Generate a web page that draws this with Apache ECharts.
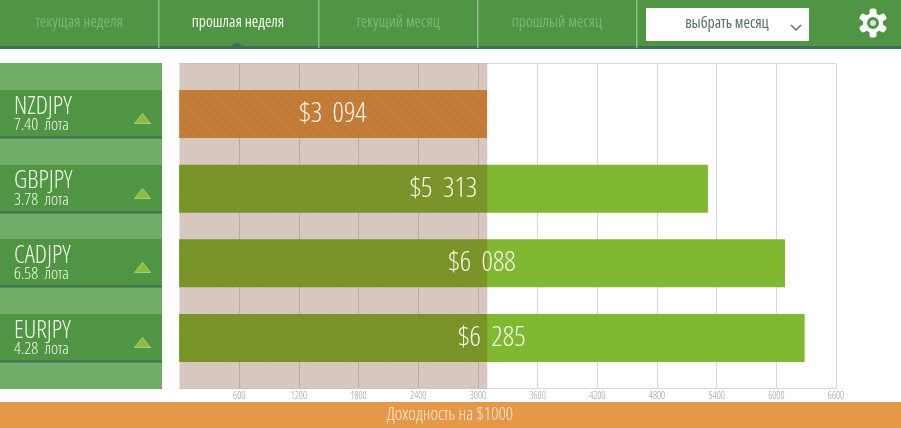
<!DOCTYPE html>
<html><head><meta charset="utf-8">
<style>html,body{margin:0;padding:0;background:#fff}#c{width:901px;height:428px}</style>
<script src="https://cdn.jsdelivr.net/npm/echarts@6/dist/echarts.min.js"></script>
</head><body><div id="c"></div>
<script>
const pairs = ['NZDJPY','GBPJPY','CADJPY','EURJPY'];
const lots = ['7.40','3.78','6.58','4.28'];
const profits = [3094,5313,6088,6285];
const barColors = ['#E59848','#80B832','#80B832','#80B832'];
const bandValue = [3094];
const tabs = ['текущая неделя','прошлая неделя','текущий месяц','прошлый месяц'];
const FONT = '"Open Sans","DejaVu Sans",sans-serif';
const NARROW = '300 condensed';

function hatch(){
  const s=10,c=document.createElement('canvas');c.width=s;c.height=s;
  const x=c.getContext('2d');
  x.fillStyle='rgba(96,43,9,0.26)';x.fillRect(0,0,s,s);
  x.strokeStyle='rgba(255,255,255,0.03)';x.lineWidth=2;
  x.beginPath();x.moveTo(0,0);x.lineTo(10,10);x.moveTo(5,-5);x.lineTo(15,5);x.moveTo(-5,5);x.lineTo(5,15);x.stroke();
  return c;
}
const fmt = v => '$'+String(v).replace(/\B(?=(\d{3})+$)/g,'  ');

const g=[];
function rect(x,y,w,h,fill){g.push({type:'rect',shape:{x,y,width:w,height:h},style:{fill},silent:true});}
function text(t,x,y,size,fill,w){g.push({type:'text',x,y,style:{text:t,fill,font:(w||'condensed')+' '+size+'px '+FONT,textAlign:'center',textVerticalAlign:'middle'},silent:true});}
rect(0,0,901,46,'#4F9544');
rect(0,46,901,3,'#3F7055');
g.push({type:'polygon',shape:{points:[[231,46],[237,42.5],[243,46]]},style:{fill:'#3F7055'},silent:true});
[158,318,477,636].forEach(x=>rect(x,0,1.5,48,'#8CBB85'));
[79,238,398,557].forEach((x,i)=>text(tabs[i],x,23,15.5,i===1?'#F2F7E6':'#7DB375'));
rect(646,8,163,33,'#fff');
text('выбрать месяц',727,24,15.5,'#55706A');
g.push({type:'polyline',shape:{points:[[791,25],[796,30],[801,25]]},style:{stroke:'#55706A',lineWidth:1.5,fill:'none'},silent:true});
for(let i=0;i<6;i++){g.push({type:'rect',x:873,y:23,rotation:i*Math.PI/3,shape:{x:-3.5,y:-14.5,width:7,height:9,r:2.5},style:{fill:'#fff'},silent:true});}
g.push({type:'circle',shape:{cx:873,cy:23,r:10},style:{fill:'#fff'},silent:true});
g.push({type:'circle',shape:{cx:873,cy:23,r:4.5},style:{fill:'#D8E6D2',stroke:'#4F9544',lineWidth:3},silent:true});
rect(0,63,162,326,'#72AC69');
[90,165,239,314].forEach(y=>{
  rect(0,y,162,48,'#4F9544');
  rect(0,y+46.5,162,2,'#3F7055');
  g.push({type:'polygon',shape:{points:[[142.5,y+23.5],[134.5,y+33.5],[150.5,y+33.5]]},style:{fill:'#8EBB3A',stroke:'#A9CC80',lineWidth:1},silent:true});
});
rect(0,402,901,26,'#E59848');
text('Доходность на $1000',450,415,18,'#FBEBD6',NARROW);

const chart=echarts.init(document.getElementById('c'),null,{renderer:'canvas'});
chart.setOption({
  animation:false,
  graphic:{z:0,elements:g},
  grid:[
    {left:179.5,right:65,top:63.5,bottom:39.5},
    {left:179,right:65,top:76.67,height:298.67}
  ],
  xAxis:[
    {gridIndex:0,type:'value',min:0,max:6600,interval:600,
      axisLine:{show:true,lineStyle:{color:'#D8D8D8',width:1}},axisTick:{show:false},
      splitLine:{show:true,showMinLine:false,lineStyle:{color:'#D8D8D8',width:1}},
      axisLabel:{show:true,margin:3,fontSize:10,color:'#949C9C',fontFamily:FONT,fontWeight:NARROW,
        formatter:v=>v===0?'':String(v)}},
    {gridIndex:1,type:'value',min:0,max:6600,interval:600,show:false,splitLine:{show:false}},
    {gridIndex:0,type:'value',position:'top',min:0,max:6600,interval:600,
      axisLine:{show:true,lineStyle:{color:'#D8D8D8',width:1}},axisTick:{show:false},
      axisLabel:{show:false},splitLine:{show:false}}
  ],
  yAxis:[
    {gridIndex:0,type:'category',data:['band'],show:false},
    {gridIndex:1,type:'category',data:pairs,inverse:true,z:10,
      axisLine:{show:false},axisTick:{show:false},
      axisLabel:{margin:165,align:'left',
        formatter:(v,i)=>'{a|'+v+'}\n{b|'+lots[i]+'  лота}',
        rich:{a:{fontSize:25,lineHeight:22,color:'#F4F8EC',fontFamily:FONT,fontWeight:NARROW,padding:[3,0,0,0]},
              b:{fontSize:17,lineHeight:18,color:'#F4F8EC',fontFamily:FONT,fontWeight:NARROW}}}}
  ],
  series:[
    {type:'bar',xAxisIndex:1,yAxisIndex:1,z:2,barWidth:48,barGap:'-100%',
      data:profits.map((v,i)=>({value:v,itemStyle:{color:barColors[i]}}))},
    {type:'bar',xAxisIndex:0,yAxisIndex:0,z:3,barWidth:'100%',silent:true,
      data:bandValue,itemStyle:{color:{image:hatch(),repeat:'repeat'}}},
    {type:'bar',xAxisIndex:1,yAxisIndex:1,z:4,barWidth:48,barGap:'-100%',silent:true,
      data:profits,itemStyle:{color:'transparent'},
      label:{show:true,position:'inside',formatter:p=>fmt(p.value),
        fontSize:28,color:'#F6F8E8',fontFamily:FONT,fontWeight:NARROW}}
  ]
});
</script></body></html>
